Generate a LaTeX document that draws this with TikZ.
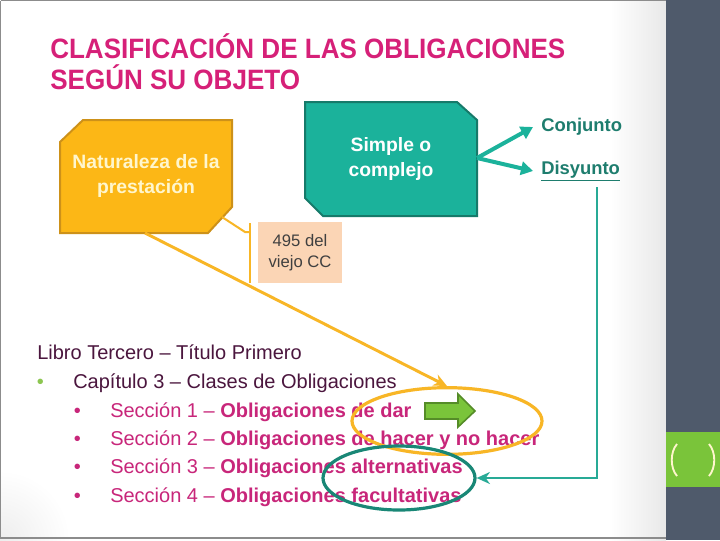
\documentclass[tikz,border=0pt]{standalone}
\usepackage{fontspec}
\setmainfont{Liberation Sans}
\usepackage{graphicx,xcolor}
\usetikzlibrary{arrows.meta,shapes.geometric}

\definecolor{titulo}{RGB}{214,32,120}
\definecolor{seccion}{RGB}{200,38,122}
\definecolor{oscuro}{RGB}{75,22,62}
\definecolor{ambar}{RGB}{252,183,22}
\definecolor{ambarborde}{RGB}{205,145,25}
\definecolor{crema}{RGB}{255,246,205}
\definecolor{verdeazul}{RGB}{27,178,155}
\definecolor{verdeazulborde}{RGB}{22,122,106}
\definecolor{verdeazultexto}{RGB}{30,125,110}
\definecolor{linea}{RGB}{40,170,150}
\definecolor{circulo}{RGB}{25,135,118}
\definecolor{amarillo}{RGB}{248,182,38}
\definecolor{durazno}{RGB}{251,213,181}
\definecolor{panel}{RGB}{79,90,107}
\definecolor{lima}{RGB}{122,196,58}
\definecolor{limaborde}{RGB}{85,140,40}
\definecolor{puntoverde}{RGB}{140,198,80}

\begin{document}
\begin{tikzpicture}[x=0.75pt,y=0.75pt,yscale=-1,xscale=1,
  lista/.style={anchor=base west, inner sep=0pt, font=\fontsize{15}{18}\selectfont},
  caja/.style={line width=1.5pt, line join=miter},
  cajatexto/.style={align=center, inner sep=0pt, font=\fontsize{14.5}{18.75}\selectfont\bfseries},
  opcion/.style={anchor=west, inner sep=6pt, text=verdeazultexto, font=\fontsize{13.8}{16}\selectfont\bfseries},
  flechaverde/.style={draw=verdeazul, line width=3pt, -{Triangle[length=9pt,width=10pt]}},
  ovalo/.style={ellipse, inner sep=0pt, line width=2.4pt}
]
\useasboundingbox (0,0) rectangle (720,540);

% fondo
\fill[white] (0,0) rectangle (666,540);
\shade[left color=white, right color=black!9] (610,0) rectangle (666,540);
\shade[inner color=black!7, outer color=white] (0,540) circle (70);
\fill[white] (70,430) rectangle (610,540);
\draw[black!45, line width=0.9pt] (0.5,0.5) -- (666,0.5);
\draw[black!45, line width=0.9pt] (0.5,0.5) -- (0.5,538) -- (666,538);
\fill[panel] (666,0) rectangle (720,540);
\fill[lima] (666,432) rectangle (720,487);
\draw[crema, line width=1.4pt] (677,444) .. controls (670,452) and (670,468) .. (677,476);
\draw[crema, line width=1.4pt] (709,444) .. controls (716,452) and (716,468) .. (709,476);

% titulo
\node[anchor=base west, inner sep=0pt, text=titulo, font=\fontsize{21}{25}\selectfont\bfseries] (titulo1) at (50,58) {\scalebox{0.93}[1]{CLASIFICACIÓN DE LAS OBLIGACIONES}};
\node[anchor=base west, inner sep=0pt, text=titulo, font=\fontsize{21}{25}\selectfont\bfseries] (titulo2) at (50,89) {\scalebox{0.93}[1]{SEGÚN SU OBJETO}};

% cajas
\draw[caja, fill=ambar, draw=ambarborde] (60,142) -- (83,120) -- (232,120) -- (232,207) -- (208,233) -- (60,233) -- cycle;
\node[cajatexto, text=crema] (naturaleza) at (146,176) {Naturaleza de la\\prestación};

\draw[caja, fill=verdeazul, draw=verdeazulborde] (305,102) -- (457,102) -- (477,120) -- (477,216) -- (323,216) -- (305,198) -- cycle;
\node[cajatexto, text=white] (simple) at (391,159) {Simple o\\complejo};

\node[fill=durazno, minimum width=63pt, minimum height=45.75pt, align=center, inner sep=0pt, text=black!75, font=\fontsize{12.5}{15.75}\selectfont] (nota) at (300,252.5) {495 del\\viejo CC};

\coordinate (nat-esquina) at (222,217);
\coordinate (nat-abajo) at (145,233);
\coordinate (simple-e) at (477,158);
\coordinate (llave-arriba) at (250,223);
\coordinate (llave-abajo) at (250,283);
\coordinate (llave-medio) at (250,232);

\node[opcion] (conjunto) at (533,127) {Conjunto};
\node[opcion] (disyunto) at (533,171) {\underline{Disyunto}};
\coordinate (disyunto-baja) at (597,187);

% lista
\node[lista, text=oscuro] (libro) at (37,359) {Libro Tercero – Título Primero};
\node[lista, text=puntoverde] (punto0) at (36.5,388) {•};
\node[lista, text=oscuro] (capitulo) at (73,388) {Capítulo 3 – Clases de Obligaciones};
\node[lista, text=seccion] (punto1) at (73.5,417) {•};
\node[lista, text=seccion] (seccion1) at (110,417) {Sección 1 – \textbf{Obligaciones de dar}};
\node[lista, text=seccion] (punto2) at (73.5,445) {•};
\node[lista, text=seccion] (seccion2) at (110,445) {Sección 2 – \textbf{Obligaciones de hacer y no hacer}};
\node[lista, text=seccion] (punto3) at (73.5,473) {•};
\node[lista, text=seccion] (seccion3) at (110,473) {Sección 3 – \textbf{Obligaciones alternativas}};
\node[lista, text=seccion] (punto4) at (73.5,502) {•};
\node[lista, text=seccion] (seccion4) at (110,502) {Sección 4 – \textbf{Obligaciones facultativas}};

% ovalos
\node[ovalo, draw=amarillo, minimum width=142.5pt, minimum height=50pt] (ovalo-dar) at (447,421) {};
\node[ovalo, draw=circulo, minimum width=114pt, minimum height=48pt] (ovalo-alt) at (399,478) {};

% flecha gruesa
\draw[fill=lima, draw=limaborde, line width=1.2pt] (425,403) -- (458,403) -- (458,394) -- (475,411) -- (458,427) -- (458,419) -- (425,419) -- cycle;

% conectores
\draw[flechaverde] (simple-e) -- (conjunto.west);
\draw[flechaverde] (simple-e) -- (disyunto.west);
\draw[draw=linea, line width=2.2pt, -{Stealth[length=10pt,width=9pt]}] (disyunto-baja) |- (ovalo-alt.east);
\draw[draw=amarillo, line width=2.2pt, -{Stealth[length=10pt,width=9pt]}] (nat-abajo) -- (ovalo-dar.north);
\draw[draw=amarillo, line width=1.5pt] (nat-esquina) -- (245,232) -- (llave-medio);
\draw[draw=amarillo, line width=1.5pt] (llave-arriba) -- (llave-abajo);

\end{tikzpicture}
\end{document}
